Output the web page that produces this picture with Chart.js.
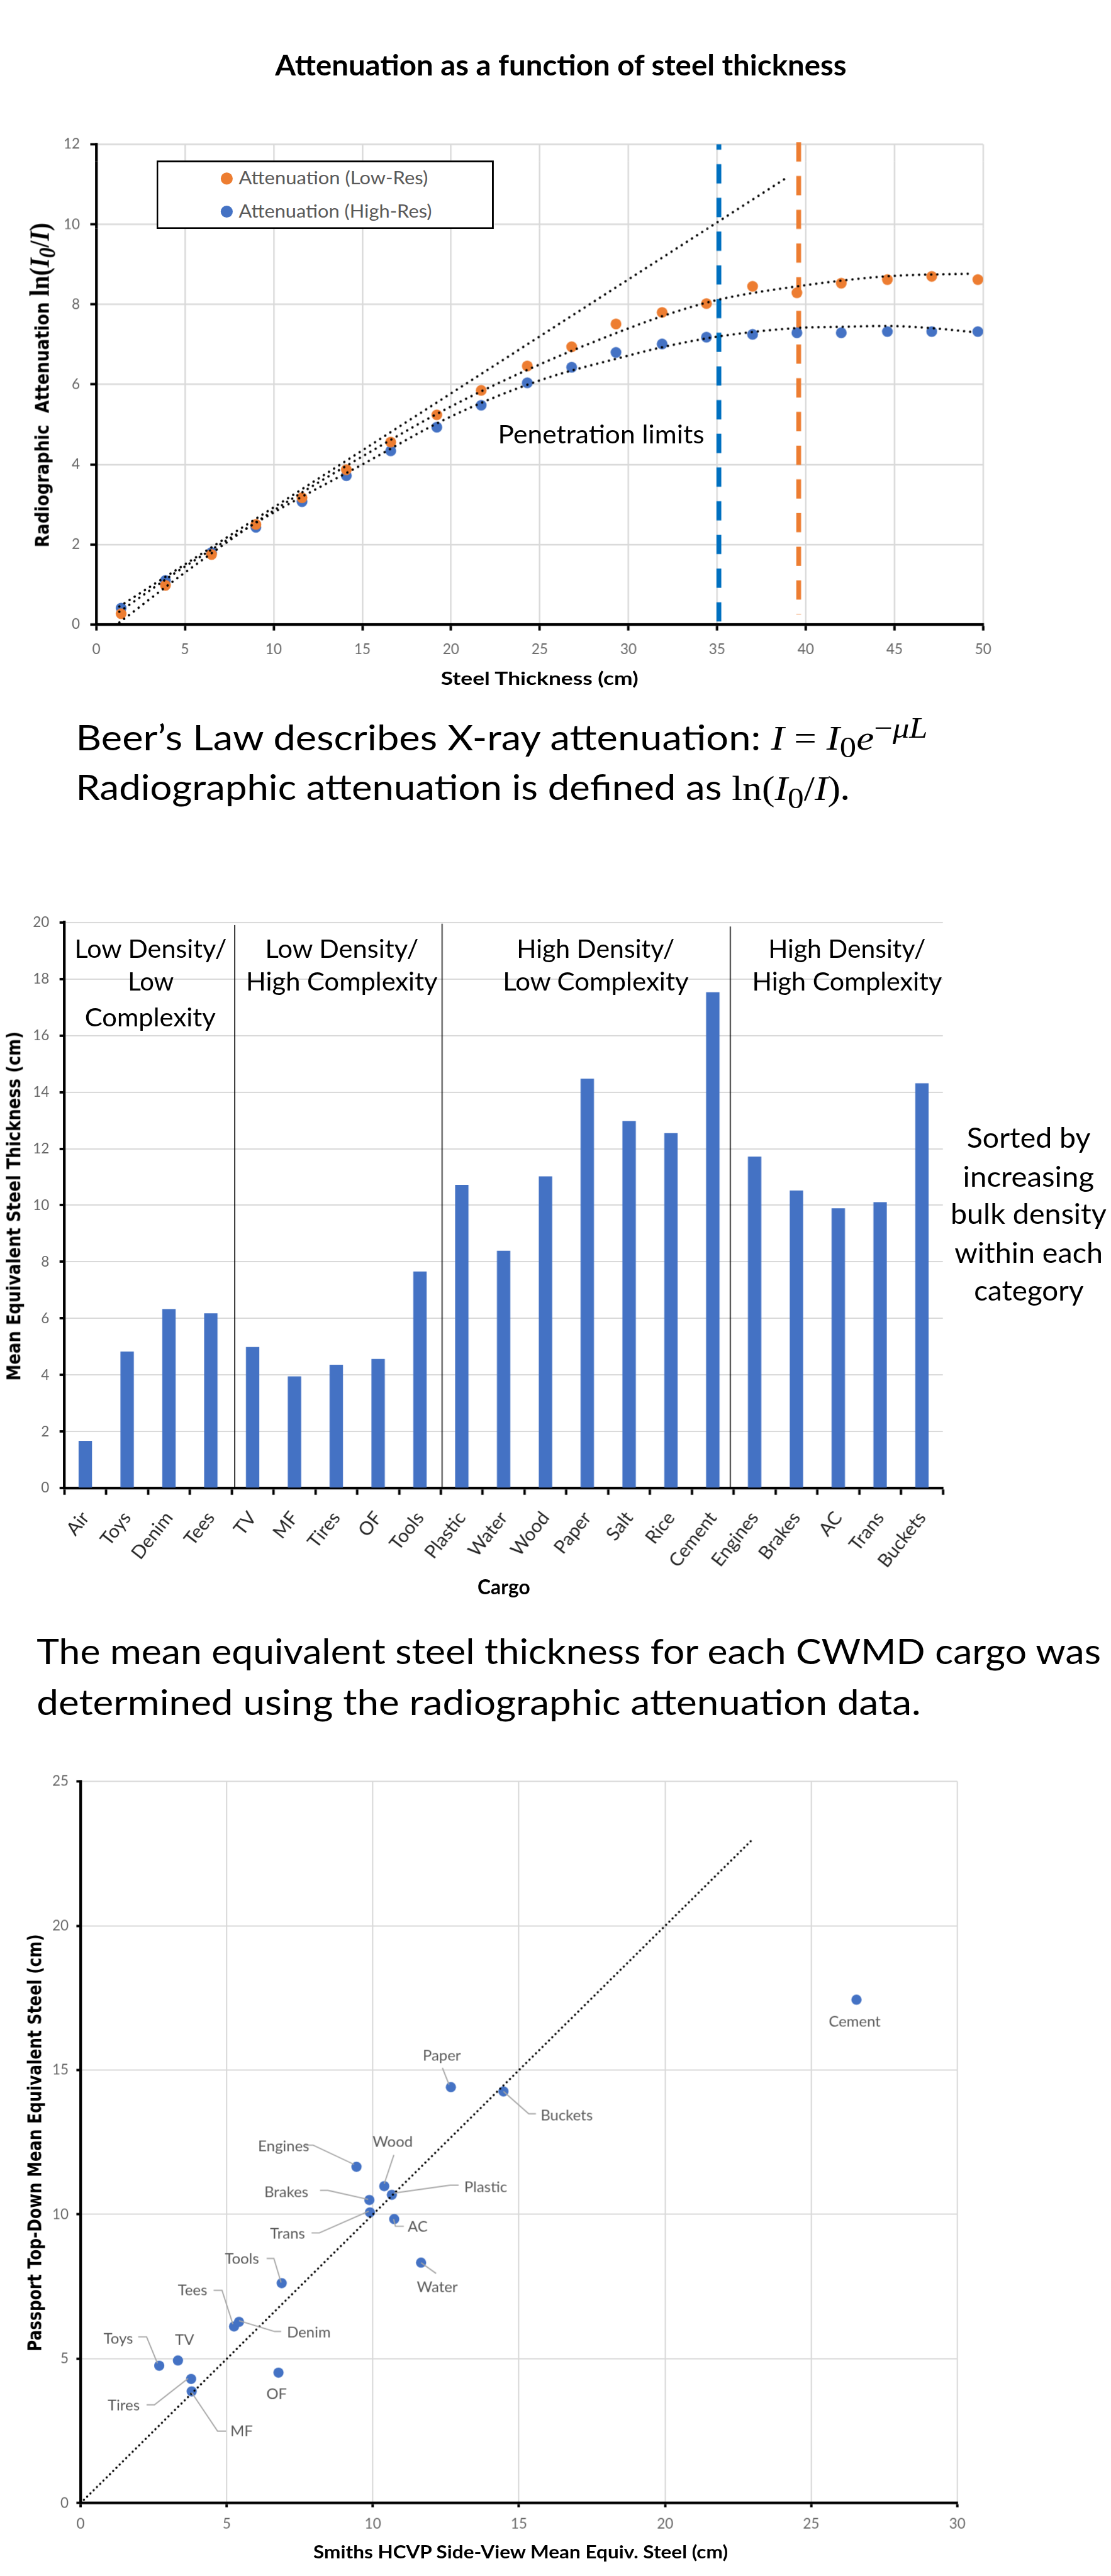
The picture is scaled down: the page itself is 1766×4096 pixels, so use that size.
<!DOCTYPE html>
<html>
<head>
<meta charset="utf-8">
<script src="https://cdn.jsdelivr.net/npm/chart.js@4.4.1/dist/chart.umd.min.js"></script>
<style>
  html, body { margin: 0; padding: 0; background: #fff; overflow: hidden; }
  #page { position: absolute; left: 0; top: 0; width: 1846px; height: 4281px; transform: scale(0.956); transform-origin: 0 0; }
  .box { position: absolute; }
  .t { position: absolute; white-space: nowrap; line-height: 1; font-family: Lato, sans-serif; color: #000; }
  .v { font-family: 'DejaVu Sans', sans-serif; font-weight: bold; }
  .m { font-family: 'Liberation Serif', serif; }
  .mb { font-family: 'Liberation Serif', serif; font-size: 1.5em; font-weight: bold; }
  .bl { display: inline-block; width: 0; height: 0; vertical-align: baseline; }
  .dot { position: absolute; width: 20px; height: 20px; border-radius: 50%; }
</style>
</head>
<body>
<div id="page">
  <div class="box" style="left:0;top:200px;width:1846px;height:960px"><canvas id="c1"></canvas></div>
  <div class="box" style="left:0;top:1480px;width:1846px;height:1200px"><canvas id="c2"></canvas></div>
  <div class="box" style="left:0;top:2900px;width:1846px;height:1381px"><canvas id="c3"></canvas></div>
  <div style="position:absolute;left:260px;top:267px;width:561px;height:114px;box-sizing:border-box;border:3px solid #000;background:#fff"></div>
  <div class="dot" style="left:367px;top:287px;background:#ED7D31"></div>
  <div class="dot" style="left:367px;top:342px;background:#4472C4"></div>
</div>
<script>
// ---- chart 1: attenuation vs steel thickness
const thickness = [1.4, 3.9, 6.5, 9.0, 11.6, 14.1, 16.6, 19.2, 21.7, 24.3, 26.8, 29.3, 31.9, 34.4, 37.0, 39.5, 42.0, 44.6, 47.1, 49.7];
const lowRes = [0.27, 0.98, 1.75, 2.50, 3.17, 3.87, 4.56, 5.24, 5.85, 6.46, 6.94, 7.51, 7.80, 8.02, 8.45, 8.29, 8.53, 8.62, 8.70, 8.62];
const highRes = [0.41, 1.10, 1.80, 2.43, 3.07, 3.72, 4.34, 4.93, 5.48, 6.04, 6.43, 6.80, 7.01, 7.18, 7.25, 7.29, 7.29, 7.32, 7.32, 7.32];
// dotted trendlines
const linFitX = [1.3, 38.9];
const linFitY = [0.45, 11.16];
const lowFitX = [1.3, 5, 10, 15, 20, 25, 30, 32, 35.1, 39.5, 44.5, 49.4];
const lowFitY = [0.05, 1.3, 2.85, 4.2, 5.45, 6.5, 7.4, 7.72, 8.12, 8.45, 8.7, 8.77];
const highFitX = [1.3, 5, 10, 15, 20, 25, 30, 31.9, 35.1, 39.5, 42, 44.5, 47, 49.4];
const highFitY = [0.32, 1.45, 2.8, 4.0, 5.2, 6.1, 6.72, 6.93, 7.2, 7.41, 7.44, 7.46, 7.41, 7.31];
// penetration limits: high-res, low-res
const limitX = [35.1, 39.6];
const limitTop = [12, 12.05];
const limitBottom = [0, 0.25];

// ---- chart 2: mean equivalent steel per cargo
const cargo = ['Air', 'Toys', 'Denim', 'Tees', 'TV', 'MF', 'Tires', 'OF', 'Tools', 'Plastic', 'Water', 'Wood', 'Paper', 'Salt', 'Rice', 'Cement', 'Engines', 'Brakes', 'AC', 'Trans', 'Buckets'];
const meanSteel = [1.67, 4.83, 6.33, 6.18, 4.99, 3.95, 4.36, 4.57, 7.66, 10.72, 8.39, 11.02, 14.47, 12.98, 12.55, 17.53, 11.72, 10.52, 9.89, 10.11, 14.31];
const groupBreaks = [3.57, 8.53, 15.42];   // category index units
const groupTop = [19.9, 19.95, 19.85];

// ---- chart 3: Smiths side view vs Passport top down
const scatterNames = ['Toys', 'TV', 'Tires', 'MF', 'OF', 'Tees', 'Denim', 'Tools', 'Water', 'AC', 'Trans', 'Brakes', 'Plastic', 'Wood', 'Engines', 'Paper', 'Buckets', 'Cement'];
const smithsSide = [2.69, 3.33, 3.78, 3.80, 6.77, 5.25, 5.42, 6.88, 11.65, 10.73, 9.90, 9.88, 10.65, 10.39, 9.44, 12.67, 14.47, 26.55];
const passportTop = [4.76, 4.94, 4.30, 3.87, 4.52, 6.12, 6.28, 7.62, 8.33, 9.84, 10.07, 10.50, 10.68, 10.98, 11.65, 14.41, 14.26, 17.44];
const unityX = [0, 23];
const unityY = [0, 23];

// label offsets (px from the point) and leader lines
const labelLayout = {
  Paper:   { dx: -15, dy: -52, lead: [[-14, -32], [-3, -4]] },
  Buckets: { dx: 105, dy: 40, lead: [[0, 0], [42, 37], [54, 37]] },
  Engines: { dx: -121, dy: -34, lead: [[-85, -36], [-72, -36], [-4, -4]] },
  Wood:    { dx: 14, dy: -73, lead: [[16, -52], [0, -4]] },
  Plastic: { dx: 156, dy: -13, lead: [[111, -16], [97, -16], [4, -3]] },
  Brakes:  { dx: -138, dy: -13, lead: [[-82, -16], [-69, -16], [-2, -1]] },
  Trans:   { dx: -137, dy: 36, lead: [[-97, 34], [-84, 34], [-2, -2]] },
  AC:      { dx: 39, dy: 13, lead: [[-1, 0], [2, 12], [16, 12]] },
  Water:   { dx: 27, dy: 41, lead: [[0, 0], [25, 18]] },
  Tools:   { dx: -66, dy: -40, lead: [[-25, -41], [-13, -41], [-1, -1]] },
  Tees:    { dx: -69, dy: -60, lead: [[-34, -60], [-20, -60], [-2, -4]] },
  Denim:   { dx: 116, dy: 18, lead: [[0, -2], [59, 16], [70, 16]] },
  Toys:    { dx: -68, dy: -45, lead: [[-35, -48], [-21, -48], [-3, -4]] },
  TV:      { dx: 11, dy: -34 },
  OF:      { dx: -3, dy: 36 },
  Tires:   { dx: -112, dy: 44, lead: [[-74, 43], [-61, 43], [-5, -1]] },
  MF:      { dx: 83, dy: 66, lead: [[0, 2], [43, 66], [57, 66]] },
  Cement:  { dx: -3, dy: 37 }
};

Chart.defaults.font.family = 'Lato';

const xy = (xs, ys) => xs.map((v, i) => ({ x: v, y: ys[i] }));

function fixAxis(size, horizontal) {
  return function (scale) {
    if (horizontal) {
      scale.height = size;
      scale.paddingLeft = 0;
      scale.paddingRight = 0;
    } else {
      scale.width = size;
      scale.paddingTop = 0;
      scale.paddingBottom = 0;
    }
  };
}

const common = {
  responsive: true,
  maintainAspectRatio: false,
  animation: false,
  events: [],
  devicePixelRatio: 0.956,
  plugins: { legend: { display: false }, tooltip: { enabled: false } }
};

function axis(min, max, step, opts) {
  return {
    type: 'linear', min, max,
    ticks: { stepSize: step, color: '#666', font: { size: 23.5 }, padding: opts.pad },
    grid: { color: '#D9D9D9', lineWidth: opts.grid, tickColor: '#000', tickLength: opts.tl, tickWidth: 4 },
    border: { color: '#000', width: 4.5 },
    afterFit: fixAxis(opts.size, opts.horizontal)
  };
}

const dotted = { showLine: true, pointRadius: 0, borderColor: '#000', borderWidth: 4, borderDash: [0.1, 10], borderCapStyle: 'round', fill: false, order: 0 };

new Chart(document.getElementById('c1'), {
  type: 'scatter',
  data: {
    datasets: [
      { data: xy(thickness, lowRes), pointRadius: 9, pointBackgroundColor: '#ED7D31', pointBorderWidth: 0, order: 1 },
      { data: xy(thickness, highRes), pointRadius: 9, pointBackgroundColor: '#4472C4', pointBorderWidth: 0, order: 1 },
      Object.assign({ data: xy(linFitX, linFitY) }, dotted),
      Object.assign({ data: xy(lowFitX, lowFitY), cubicInterpolationMode: 'monotone' }, dotted),
      Object.assign({ data: xy(highFitX, highFitY), cubicInterpolationMode: 'monotone' }, dotted),
      { data: [{ x: limitX[0], y: limitTop[0] }, { x: limitX[0], y: limitBottom[0] }], showLine: true, pointRadius: 0,
        borderColor: '#0070C0', borderWidth: 8, borderDash: [32, 24], borderDashOffset: 23, clip: false, order: 2 },
      { data: [{ x: limitX[1], y: limitTop[1] }, { x: limitX[1], y: limitBottom[1] }], showLine: true, pointRadius: 0,
        borderColor: '#ED7D31', borderWidth: 8, borderDash: [32, 24], clip: false, order: 2 }
    ]
  },
  options: Object.assign({}, common, {
    layout: { padding: { left: 0, right: 212, top: 40, bottom: 0 } },
    scales: {
      x: axis(0, 50, 5, { pad: 17, grid: 2.5, tl: 10, size: 122, horizontal: true }),
      y: axis(0, 12, 2, { pad: 17, grid: 2.5, tl: 10, size: 160, horizontal: false })
    }
  })
});

const groupLines = {
  id: 'groupLines',
  afterDatasetsDraw(chart) {
    const { ctx, scales: { x, y } } = chart;
    ctx.save();
    ctx.strokeStyle = '#000';
    ctx.lineWidth = 1.6;
    groupBreaks.forEach((v, i) => {
      const px = x.getPixelForValue(v);
      ctx.beginPath();
      ctx.moveTo(px, y.getPixelForValue(groupTop[i]));
      ctx.lineTo(px, y.getPixelForValue(0));
      ctx.stroke();
    });
    ctx.restore();
  }
};

new Chart(document.getElementById('c2'), {
  type: 'bar',
  data: { labels: cargo, datasets: [{ data: meanSteel, backgroundColor: '#4472C4', barPercentage: 0.32, categoryPercentage: 1 }] },
  options: Object.assign({}, common, {
    layout: { padding: { left: 0, right: 279, top: 54, bottom: 0 } },
    scales: {
      x: {
        ticks: { color: '#262626', font: { size: 31 }, minRotation: 52, maxRotation: 52, autoSkip: false, padding: 21 },
        grid: { drawOnChartArea: false, offset: true, tickColor: '#000', tickLength: 11, tickWidth: 4 },
        border: { color: '#000', width: 4.5 },
        afterFit: fixAxis(205, true)
      },
      y: axis(0, 20, 2, { pad: 17, grid: 2, tl: 8, size: 107, horizontal: false })
    }
  }),
  plugins: [groupLines]
});

const pointLabels = {
  id: 'pointLabels',
  afterDatasetsDraw(chart) {
    const ctx = chart.ctx;
    const meta = chart.getDatasetMeta(0);
    ctx.save();
    ctx.strokeStyle = '#A6A6A6';
    ctx.lineWidth = 2;
    ctx.fillStyle = '#595959';
    ctx.font = '25px Lato';
    ctx.textAlign = 'center';
    ctx.textBaseline = 'middle';
    meta.data.forEach((pt, i) => {
      const L = labelLayout[scatterNames[i]];
      if (L.lead) {
        ctx.beginPath();
        L.lead.forEach(([a, b], j) => j ? ctx.lineTo(pt.x + a, pt.y + b) : ctx.moveTo(pt.x + a, pt.y + b));
        ctx.stroke();
      }
      ctx.fillText(scatterNames[i], pt.x + L.dx, pt.y + L.dy);
    });
    ctx.restore();
  }
};

new Chart(document.getElementById('c3'), {
  type: 'scatter',
  data: {
    datasets: [
      { data: xy(smithsSide, passportTop), pointRadius: 8.5, pointBackgroundColor: '#4472C4', pointBorderWidth: 0, order: 1 },
      Object.assign({}, dotted, { data: xy(unityX, unityY), borderWidth: 3.5, borderDash: [0.1, 7.5] })
    ]
  },
  options: Object.assign({}, common, {
    layout: { padding: { left: 0, right: 255, top: 63, bottom: 0 } },
    scales: {
      x: axis(0, 30, 5, { pad: 14, grid: 2.2, tl: 7, size: 118, horizontal: true }),
      y: axis(0, 25, 5, { pad: 13, grid: 2.2, tl: 7, size: 134, horizontal: false })
    }
  }),
  plugins: [pointLabels]
});

// ---- text blocks (x, baseline, target width in reference pixels)
const texts = [
  { html: 'Attenuation as a function of steel thickness', x: 932, base: 126.3, w: 950, size: 47.5, bold: true, center: true },
  { html: 'Attenuation (Low-Res)', x: 397, base: 307, w: 315, size: 30, color: '#595959' },
  { html: 'Attenuation (High-Res)', x: 397, base: 362, w: 321, size: 30, color: '#595959' },
  { html: 'Penetration limits', x: 828, base: 737, w: 343, size: 42 },
  { html: 'Steel Thickness (cm)', x: 897, base: 1139, w: 328, size: 29.5, bold: true, center: true },
  { html: 'Beer’s Law describes X-ray attenuation: <span class="m"><i>I</i> = <i>I</i><sub>0</sub><i>e</i><sup>−<i>μL</i></sup></span>', x: 126, base: 1247.5, w: 1416, size: 58.5 },
  { html: 'Radiographic attenuation is defined as <span class="m">ln(<i>I</i><sub>0</sub>/<i>I</i>)</span>.', x: 126, base: 1331, w: 1287, size: 58.5 },
  { html: 'Low Density/', x: 250, base: 1593, w: 253, size: 42.5, center: true },
  { html: 'Low', x: 250, base: 1648, w: 76, size: 42.5, center: true },
  { html: 'Complexity', x: 250, base: 1707, w: 218, size: 42.5, center: true },
  { html: 'Low Density/', x: 568, base: 1593, w: 255, size: 42.5, center: true },
  { html: 'High Complexity', x: 568, base: 1648, w: 319, size: 42.5, center: true },
  { html: 'High Density/', x: 990, base: 1593, w: 263, size: 42.5, center: true },
  { html: 'Low Complexity', x: 990, base: 1648, w: 309, size: 42.5, center: true },
  { html: 'High Density/', x: 1408, base: 1593, w: 262, size: 42.5, center: true },
  { html: 'High Complexity', x: 1408, base: 1648, w: 316, size: 42.5, center: true },
  { html: 'Sorted by', x: 1710, base: 1908.6, w: 206, size: 46, center: true },
  { html: 'increasing', x: 1710, base: 1973.6, w: 218, size: 46, center: true },
  { html: 'bulk density', x: 1710, base: 2036, w: 259, size: 46, center: true },
  { html: 'within each', x: 1710, base: 2100, w: 247, size: 46, center: true },
  { html: 'category', x: 1710, base: 2163, w: 182, size: 46, center: true },
  { html: 'Cargo', x: 837, base: 2652, w: 87, size: 34, bold: true, center: true },
  { html: 'The mean equivalent steel thickness for each CWMD cargo was', x: 61, base: 2768, w: 1770, size: 58 },
  { html: 'determined using the radiographic attenuation data.', x: 61, base: 2853, w: 1470, size: 58 },
  { html: 'Smiths HCVP Side-View Mean Equiv. Steel (cm)', x: 865, base: 4255, w: 689, size: 29.5, bold: true, center: true }
];
const vtexts = [
  { html: 'Radiographic&nbsp; Attenuation <span class="mb">ln(<i>I</i><sub><i>0</i></sub>/<i>I</i>)</span>', cx: 70.5, cy: 640, len: 540, size: 31 },
  { html: 'Mean Equivalent Steel Thickness (cm)', cx: 22, cy: 2006, len: 581, size: 32 },
  { html: 'Passport Top-Down Mean Equivalent Steel (cm)', cx: 57, cy: 3564, len: 694.5, size: 32 }
];

const page = document.getElementById('page');

function makeText(cls, html) {
  const el = document.createElement('div');
  el.className = cls;
  el.innerHTML = html + '<span class="bl"></span>';
  page.appendChild(el);
  return el;
}

texts.forEach(t => {
  const el = makeText('t', t.html);
  el.style.fontSize = t.size + 'px';
  if (t.bold) el.style.fontWeight = 'bold';
  if (t.color) el.style.color = t.color;
  const ow = el.offsetWidth;
  const base = el.querySelector('.bl').offsetTop;
  el.style.top = (t.base - base) + 'px';
  if (t.center) {
    el.style.left = (t.x - ow / 2) + 'px';
    el.style.transformOrigin = '50% 0';
  } else {
    el.style.left = t.x + 'px';
    el.style.transformOrigin = '0 0';
  }
  el.style.transform = 'scaleX(' + (t.w / ow) + ')';
});

vtexts.forEach(t => {
  const el = makeText('t v', t.html);
  el.style.fontSize = t.size + 'px';
  const ow = el.offsetWidth, oh = el.offsetHeight;
  const base = el.querySelector('.bl').offsetTop;
  const dy = (base - 0.729 * t.size / 2) - oh / 2;
  el.style.left = (t.cx - dy - ow / 2) + 'px';
  el.style.top = (t.cy - oh / 2) + 'px';
  el.style.transformOrigin = '50% 50%';
  el.style.transform = 'rotate(-90deg) scaleX(' + (t.len / ow) + ')';
});
</script>
</body>
</html>
